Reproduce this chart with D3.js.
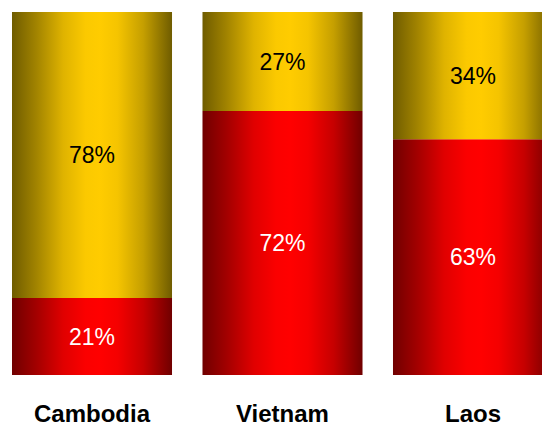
<!DOCTYPE html>
<html>
<head>
<meta charset="utf-8">
<script src="https://cdn.jsdelivr.net/npm/d3@7"></script>
<style>
  html, body { margin: 0; padding: 0; background: #fff; }
  svg { display: block; }
</style>
</head>
<body>
<svg id="chart" width="542" height="426"></svg>
<script>
const categories = ["Cambodia", "Vietnam", "Laos"];
const redValues = [21, 72, 63];
const goldValues = [78, 27, 34];

const W = 542, H = 426;
const svg = d3.select("#chart");

const defs = svg.append("defs");
function grad(id, edge, center) {
  const g = defs.append("linearGradient").attr("id", id)
    .attr("x1", "0%").attr("x2", "100%").attr("y1", "0%").attr("y2", "0%");
  const mix = d3.interpolateRgb(edge, center);
  [[0, 0], [0.15, 0.35], [0.32, 0.78], [0.46, 0.97], [0.55, 1], [0.66, 0.93], [0.82, 0.6], [1, 0]]
    .forEach(([o, t]) => g.append("stop").attr("offset", (o * 100) + "%").attr("stop-color", mix(t)));
}
grad("gRed", "#700000", "#ff0000");
grad("gGold", "#6f5c00", "#ffcc00");

const x = d3.scaleBand().domain(categories).range([12, 553]).paddingInner(0.16).paddingOuter(0);
const y = d3.scaleLinear().domain([0, 1]).range([375, 12]);

const data = categories.map((c, i) => {
  const tot = redValues[i] + goldValues[i];
  return { cat: c, red: redValues[i], gold: goldValues[i], r: redValues[i] / tot };
});

const g = svg.append("g");
g.selectAll(".red").data(data).join("rect")
  .attr("x", d => x(d.cat)).attr("width", x.bandwidth())
  .attr("y", d => y(d.r)).attr("height", d => y(0) - y(d.r))
  .attr("fill", "url(#gRed)");
g.selectAll(".gold").data(data).join("rect")
  .attr("x", d => x(d.cat)).attr("width", x.bandwidth())
  .attr("y", d => y(1)).attr("height", d => y(d.r) - y(1))
  .attr("fill", "url(#gGold)");

const font = "Liberation Sans, Arial, Helvetica, sans-serif";
g.selectAll(".lr").data(data).join("text")
  .attr("x", d => x(d.cat) + x.bandwidth() / 2)
  .attr("y", d => (y(0) + y(d.r)) / 2)
  .attr("dy", "0.35em")
  .attr("text-anchor", "middle")
  .attr("font-family", font).attr("font-size", 23)
  .attr("fill", "#fff")
  .text(d => d.red + "%");
g.selectAll(".lg").data(data).join("text")
  .attr("x", d => x(d.cat) + x.bandwidth() / 2)
  .attr("y", d => (y(d.r) + y(1)) / 2)
  .attr("dy", "0.35em")
  .attr("text-anchor", "middle")
  .attr("font-family", font).attr("font-size", 23)
  .attr("fill", "#000")
  .text(d => d.gold + "%");

const axis = d3.axisBottom(x).tickSize(0).tickPadding(0);
const ax = svg.append("g").attr("transform", "translate(0,400)").call(axis);
ax.select(".domain").remove();
ax.selectAll("text")
  .attr("font-family", font).attr("font-size", 24).attr("font-weight", "bold")
  .attr("fill", "#000").attr("dy", "0.71em").attr("y", 5);
</script>
</body>
</html>
